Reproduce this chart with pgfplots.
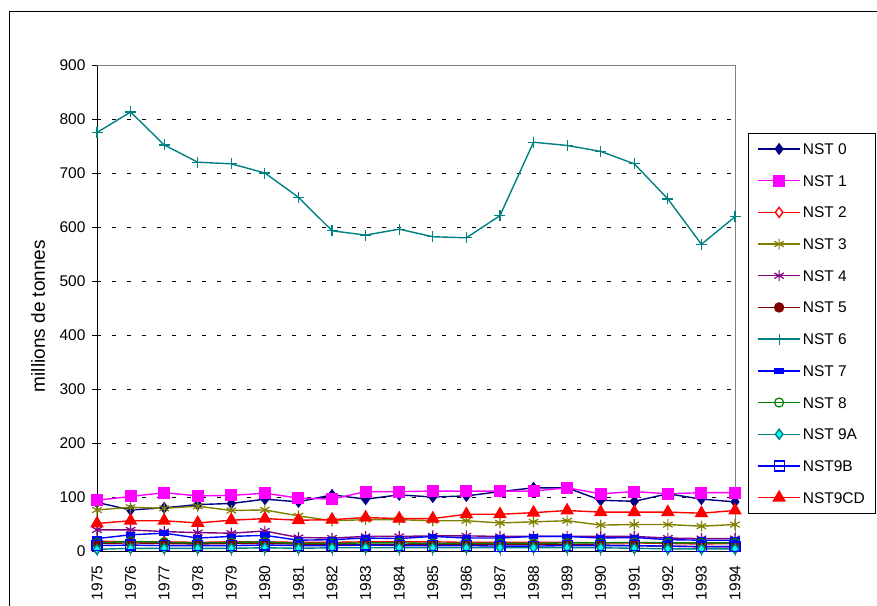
\documentclass[border=0pt]{standalone}
\usepackage{fontspec}
\setmainfont{Liberation Sans}
\usepackage{pgfplots}
\usepackage{pgfplotstable}
\pgfplotsset{compat=1.18}

\definecolor{cNavy}{HTML}{000080}
\definecolor{cMag}{HTML}{FF00FF}
\definecolor{cRed}{HTML}{FF0000}
\definecolor{cOlive}{HTML}{808000}
\definecolor{cPurple}{HTML}{800080}
\definecolor{cMaroon}{HTML}{800000}
\definecolor{cTeal}{HTML}{008080}
\definecolor{cBlue}{HTML}{0000FF}
\definecolor{cGreen}{HTML}{008000}
\definecolor{cCyan}{HTML}{00FFFF}

% tonnage per NST chapter, millions de tonnes
\pgfplotstableread{
year n0  n1  n2 n3 n4 n5 n6  n7 n8 n9a n9b n9cd
1975 90  94  18 76 39 14 775 23 15 3  10 51
1976 76  101 17 81 39 15 813 30 18 5  11 56
1977 80  108 17 79 36 14 752 33 16 5  10 56
1978 86  102 16 83 34 13 720 24 15 5  10 52
1979 88  103 17 75 33 14 717 27 16 5  10 57
1980 96  107 17 76 37 14 700 29 17 6  11 60
1981 91  98  16 65 25 13 655 20 14 5  10 57
1982 104 96  16 56 24 12 593 21 14 6  10 58
1983 96  110 17 58 27 12 585 24 15 6  11 62
1984 104 110 17 58 27 12 596 23 15 6  10 60
1985 100 111 17 56 28 12 582 27 14 6  10 60
1986 102 111 16 56 28 12 580 24 14 6  10 68
1987 110 111 16 52 27 12 621 24 14 6  9  68
1988 117 111 16 54 27 12 757 27 14 6  9  71
1989 117 117 16 56 27 12 751 27 15 6  10 75
1990 94  106 15 48 27 11 740 24 15 6  10 72
1991 92  110 15 49 27 10 717 25 16 5  10 72
1992 106 106 14 49 24 9  652 21 15 4  9  72
1993 96  108 13 46 23 8  568 20 15 4  8  70
1994 91  108 14 49 23 8  619 20 15 4  8  75
}\tonnes

\begin{document}
\begin{tikzpicture}[x=1pt,y=1pt]
\useasboundingbox (0,0) rectangle (877,605);
\begin{scope}
\clip (0,0) rectangle (877,605);
\draw[black, line width=1pt] (9,-20) -- (9,593) -- (900,593);
\end{scope}
\begin{axis}[
    at={(97pt,54pt)}, anchor=south west,
    scale only axis,
    width=638pt, height=486pt,
    font=\fontsize{15.5}{18}\selectfont,
    /pgf/number format/assume math mode=true,
    xmin=1975, xmax=1994,
    ymin=0, ymax=900,
    xtick={1975,...,1994},
    ytick={0,100,...,900},
    x tick label style={/pgf/number format/1000 sep={}, rotate=90, anchor=east},
    xticklabel shift=6pt,
    yticklabel shift=3pt,
    axis x line*=bottom,
    axis y line*=left,
    axis line style={black, line width=1pt},
    tick align=outside,
    major tick length=5pt,
    xtick style={gray, line width=0.8pt},
    ytick style={black, line width=0.8pt},
    ymajorgrids,
    grid style={black, line width=0.8pt, dash pattern=on 4pt off 11pt},
    ylabel={millions de tonnes},
    ylabel style={at={(axis description cs:-0.0925,0.4835)}, anchor=center,
        font=\fontsize{19}{22}\selectfont},
    clip=false,
    every axis plot/.append style={line width=1.4pt},
    legend cell align=left,
    legend image code/.code={\draw[mark repeat=2,mark phase=2,#1] plot coordinates {(0pt,0pt) (21pt,0pt) (42pt,0pt)};},
    legend style={at={(axis description cs:1.0204,0.860)}, anchor=north west,
        draw=black, line width=0.8pt, inner xsep=9pt, inner ysep=8pt,
        row sep=16.7pt,
        nodes={inner sep=2pt, text height=11pt, text depth=0pt},
        font=\fontsize{15.5}{18}\selectfont},
]
\addplot[cNavy, mark=diamond*, mark size=5pt, mark options={solid, fill=cNavy}] table[x=year,y=n0] {\tonnes};
\addplot[cMag, mark=square*, mark size=5.3pt, mark options={fill=cMag}] table[x=year,y=n1] {\tonnes};
\addplot[cRed, mark=diamond*, mark size=5pt, mark options={fill=white}] table[x=year,y=n2] {\tonnes};
\addplot[cOlive, mark=asterisk, mark size=5.5pt, mark options={line width=1.2pt}] table[x=year,y=n3] {\tonnes};
\addplot[cPurple, mark=asterisk, mark size=5.5pt, mark options={line width=1.2pt}] table[x=year,y=n4] {\tonnes};
\addplot[cMaroon, mark=*, mark size=4.5pt, mark options={fill=cMaroon}] table[x=year,y=n5] {\tonnes};
\addplot[cTeal, mark=+, mark size=5.5pt, mark options={line width=1.2pt}] table[x=year,y=n6] {\tonnes};
\addplot[cBlue, mark=square*, mark size=4pt, mark options={fill=cBlue, yscale=0.55}] table[x=year,y=n7] {\tonnes};
\addplot[cGreen, mark=o, mark size=4.5pt, mark options={line width=1.2pt}] table[x=year,y=n8] {\tonnes};
\addplot[cTeal, mark=diamond*, mark size=5pt, mark options={fill=cCyan, draw=cTeal}] table[x=year,y=n9a] {\tonnes};
\addplot[cBlue, mark=square, mark size=5pt, mark options={line width=1.2pt}] table[x=year,y=n9b] {\tonnes};
\addplot[cRed, mark=triangle*, mark size=6.5pt, mark options={fill=cRed}] table[x=year,y=n9cd] {\tonnes};
\legend{NST 0, NST 1, NST 2, NST 3, NST 4, NST 5, NST 6, NST 7, NST 8, NST 9A, NST9B, NST9CD}
\draw[gray, line width=1pt] (rel axis cs:0,1) -- (rel axis cs:1,1) -- (rel axis cs:1,0);
\end{axis}
\end{tikzpicture}
\end{document}
